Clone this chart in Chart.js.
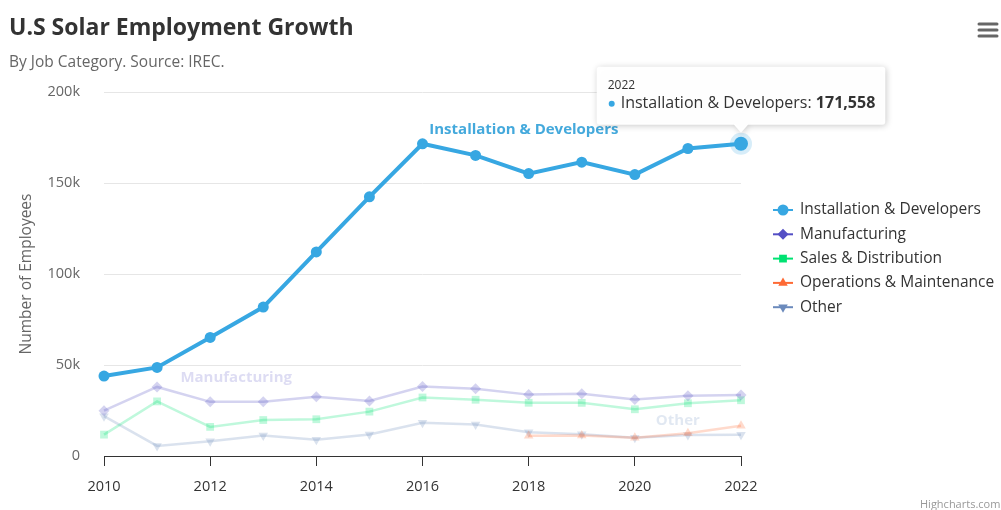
<!DOCTYPE html>
<html>
<head>
<meta charset="utf-8">
<script src="https://cdn.jsdelivr.net/npm/chart.js@4/dist/chart.umd.min.js"></script>
<style>
  html, body { margin: 0; padding: 0; background: #fff; }
  #wrap { width: 1001px; height: 510px; }
</style>
</head>
<body>
<div id="wrap"><canvas id="myChart" width="1001" height="510"></canvas></div>
<script>
// data
const years = [2010, 2011, 2012, 2013, 2014, 2015, 2016, 2017, 2018, 2019, 2020, 2021, 2022];
const installation = [43934, 48656, 65165, 81827, 112143, 142383, 171533, 165174, 155157, 161454, 154610, 168960, 171558];
const manufacturing = [24916, 37941, 29742, 29851, 32490, 30282, 38121, 36885, 33726, 34243, 31050, 33099, 33473];
const sales = [11744, 30000, 16005, 19771, 20185, 24377, 32147, 30912, 29243, 29213, 25663, 28978, 30618];
const operations = [null, null, null, null, null, null, null, null, 11164, 11218, 10077, 12530, 16585];
const other = [21908, 5548, 8105, 11248, 8989, 11816, 18274, 17300, 13053, 11906, 10073, 11471, 11648];
const seriesNames = ["Installation & Developers", "Manufacturing", "Sales & Distribution", "Operations & Maintenance", "Other"];
const yTicks = [0, 50000, 100000, 150000, 200000];
const hoverIndex = 12;

const FONT = "'Open Sans', 'Noto Sans', sans-serif";
const colors = ["#37a7e2", "#544fc5", "#00e272", "#fe6a35", "#6b8abc"];
const faded = ["rgba(44,175,254,0.25)", "rgba(84,79,197,0.25)", "rgba(0,226,114,0.25)", "rgba(254,106,53,0.25)", "rgba(107,138,188,0.25)"];
const styles = [
  { pointStyle: "circle", rotation: 0 },
  { pointStyle: "rectRot", rotation: 0 },
  { pointStyle: "rect", rotation: 0 },
  { pointStyle: "triangle", rotation: 0 },
  { pointStyle: "triangle", rotation: 180 },
];

const toPoints = (arr) => arr.map((v, i) => ({ x: years[i], y: v }));

function fadedSet(i, values) {
  return {
    label: seriesNames[i],
    data: toPoints(values),
    borderColor: faded[i],
    backgroundColor: faded[i],
    borderWidth: 2.5,
    pointStyle: styles[i].pointStyle,
    pointRotation: styles[i].rotation,
    pointRadius: 5.5,
    pointBorderWidth: 0,
    pointBackgroundColor: faded[i],
    tension: 0,
    spanGaps: false,
    clip: false,
  };
}

const datasets = [
  {
    label: seriesNames[0],
    data: toPoints(installation),
    borderColor: colors[0],
    backgroundColor: colors[0],
    borderWidth: 4,
    pointStyle: "circle",
    pointRadius: years.map((_, i) => (i === hoverIndex ? 7 : 5.5)),
    pointBorderWidth: 0,
    pointBackgroundColor: colors[0],
    tension: 0,
    clip: false,
  },
  fadedSet(1, manufacturing),
  fadedSet(2, sales),
  fadedSet(3, operations),
  fadedSet(4, other),
];

const extras = {
  id: "extras",
  beforeDatasetsDraw(chart) {
    // halo round the hovered point
    const ctx = chart.ctx;
    const p = chart.getDatasetMeta(0).data[hoverIndex];
    ctx.save();
    ctx.fillStyle = "rgba(55,167,226,0.2)";
    ctx.beginPath();
    ctx.arc(p.x, p.y, 11, 0, Math.PI * 2);
    ctx.fill();
    ctx.restore();
  },
  afterDraw(chart) {
    const ctx = chart.ctx;
    const area = chart.chartArea;
    const xs = chart.scales.x, ys = chart.scales.y;
    ctx.save();

    // title + subtitle
    ctx.textBaseline = "middle";
    ctx.textAlign = "left";
    ctx.fillStyle = "#333333";
    ctx.font = "bold 23px " + FONT;
    ctx.fillText("U.S Solar Employment Growth", 9, 28);
    ctx.fillStyle = "#666666";
    ctx.font = "15.5px " + FONT;
    ctx.fillText("By Job Category. Source: IREC.", 9, 63);

    // menu icon
    ctx.strokeStyle = "#666666";
    ctx.lineWidth = 3;
    ctx.lineCap = "round";
    [24, 30, 36].forEach((y) => {
      ctx.beginPath();
      ctx.moveTo(979, y);
      ctx.lineTo(997, y);
      ctx.stroke();
    });

    // y axis title
    ctx.save();
    ctx.translate(27, (area.top + area.bottom) / 2);
    ctx.rotate(-Math.PI / 2);
    ctx.textAlign = "center";
    ctx.fillStyle = "#666666";
    ctx.font = "15.5px " + FONT;
    ctx.fillText("Number of Employees", 0, 0);
    ctx.restore();

    // legend
    ctx.font = "15.5px " + FONT;
    const legendX = 773, legendY = 210, rowH = 24.3;
    seriesNames.forEach((name, i) => {
      const y = legendY + i * rowH;
      ctx.strokeStyle = colors[i];
      ctx.lineWidth = 2;
      ctx.lineCap = "butt";
      ctx.beginPath();
      ctx.moveTo(legendX, y);
      ctx.lineTo(legendX + 20, y);
      ctx.stroke();
      ctx.fillStyle = colors[i];
      Chart.helpers.drawPoint(ctx, {
        pointStyle: styles[i].pointStyle,
        rotation: styles[i].rotation,
        radius: 5.5,
        borderWidth: 0,
      }, legendX + 10, y);
      ctx.fillStyle = "#333333";
      ctx.textAlign = "left";
      ctx.fillText(name, legendX + 27, y);
    });

    // series labels
    ctx.font = "bold 15px " + FONT;
    ctx.textAlign = "center";
    ctx.fillStyle = "#44a9dc";
    ctx.fillText("Installation & Developers", xs.getPixelForValue(2017.91), ys.getPixelForValue(179500));
    ctx.fillStyle = "rgba(84,79,197,0.2)";
    ctx.fillText("Manufacturing", xs.getPixelForValue(2012.49), ys.getPixelForValue(43000));
    ctx.fillStyle = "rgba(107,138,188,0.2)";
    ctx.fillText("Other", xs.getPixelForValue(2020.81), ys.getPixelForValue(19500));

    // tooltip
    const p = chart.getDatasetMeta(0).data[hoverIndex];
    ctx.font = "16px " + FONT;
    const label = seriesNames[0] + ": ";
    const wText = ctx.measureText(label).width;
    ctx.font = "bold 16px " + FONT;
    const value = installation[hoverIndex].toLocaleString("en-US");
    const wVal = ctx.measureText(value).width;
    const boxW = 11 + 13 + wText + wVal + 10;
    const boxH = 58;
    const boxL = p.x - boxW / 2;
    const boxB = p.y - 19;
    const boxT = boxB - boxH;
    ctx.save();
    ctx.shadowColor = "rgba(0,0,0,0.22)";
    ctx.shadowBlur = 6;
    ctx.shadowOffsetX = 1;
    ctx.shadowOffsetY = 1;
    ctx.fillStyle = "rgba(255,255,255,0.98)";
    ctx.beginPath();
    ctx.roundRect(boxL, boxT, boxW, boxH, 3);
    ctx.moveTo(p.x - 7, boxB);
    ctx.lineTo(p.x, boxB + 8);
    ctx.lineTo(p.x + 7, boxB);
    ctx.fill();
    ctx.restore();
    ctx.textAlign = "left";
    ctx.fillStyle = "#333333";
    ctx.font = "12px " + FONT;
    ctx.fillText(String(years[hoverIndex]), boxL + 11, boxT + 19);
    ctx.fillStyle = colors[0];
    ctx.beginPath();
    ctx.arc(boxL + 15, boxT + 37, 3, 0, Math.PI * 2);
    ctx.fill();
    ctx.fillStyle = "#333333";
    ctx.font = "16px " + FONT;
    ctx.fillText(label, boxL + 24, boxT + 37);
    ctx.font = "bold 16px " + FONT;
    ctx.fillText(value, boxL + 24 + wText, boxT + 37);

    // credit
    ctx.font = "11px " + FONT;
    ctx.fillStyle = "#999999";
    ctx.fillText("Highcharts.com", 920, 505);

    ctx.restore();
  },
};

new Chart(document.getElementById("myChart").getContext("2d"), {
  type: "line",
  data: { datasets: datasets },
  options: {
    responsive: false,
    animation: false,
    devicePixelRatio: 1,
    events: [],
    layout: { padding: { left: 0, top: 92, right: 260, bottom: 0 } },
    plugins: {
      legend: { display: false },
      tooltip: { enabled: false },
      title: { display: false },
    },
    scales: {
      x: {
        type: "linear",
        min: years[0],
        max: years[years.length - 1],
        afterFit: (scale) => { scale.height = 54; },
        ticks: {
          stepSize: 2,
          padding: 12,
          color: "#333333",
          font: { family: FONT, size: 14.5 },
          callback: (v) => String(v),
        },
        grid: { display: true, drawOnChartArea: false, drawTicks: true, tickLength: 10, color: "#333333", lineWidth: 1 },
        border: { display: true, color: "#333333", width: 1 },
      },
      y: {
        min: yTicks[0],
        max: yTicks[yTicks.length - 1],
        afterFit: (scale) => { scale.width = 104; },
        afterBuildTicks: (scale) => { scale.ticks = yTicks.map((v) => ({ value: v })); },
        ticks: {
          padding: 24,
          color: "#666666",
          font: { family: FONT, size: 14.5 },
          callback: (v) => (v === 0 ? "0" : v / 1000 + "k"),
        },
        grid: { color: "#e6e6e6", lineWidth: 1, drawTicks: false },
        border: { display: false },
      },
    },
  },
  plugins: [extras],
});
</script>
</body>
</html>
